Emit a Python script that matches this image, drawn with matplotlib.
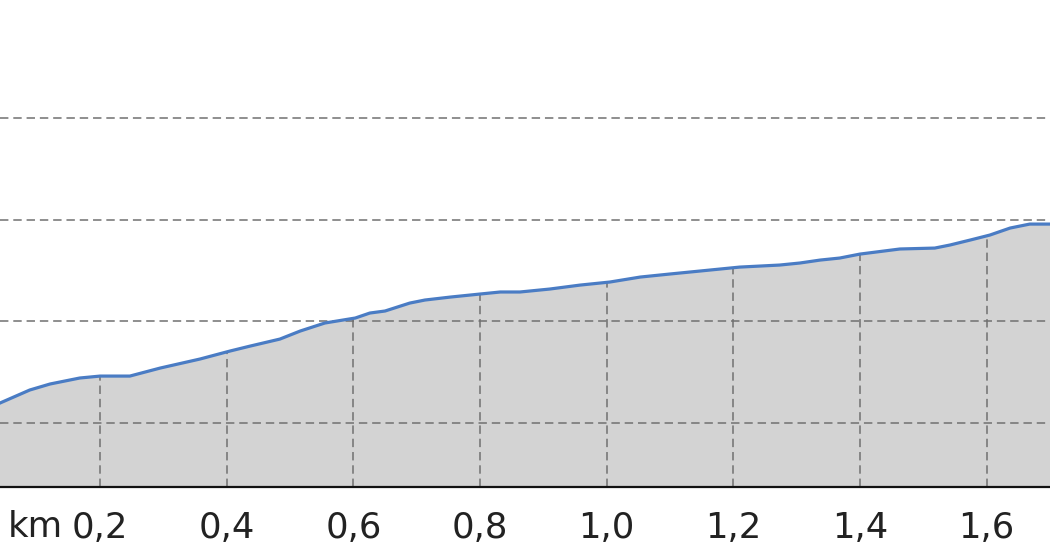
"""Elevation profile along the route (distance in km)."""

import numpy as np
import matplotlib as mpl
import matplotlib.pyplot as plt

mpl.rcParams["font.family"] = "DejaVu Sans"

# distance along route (km) and elevation (m)
distance_km = [0.042, 0.089, 0.121, 0.168, 0.200, 0.247, 0.295, 0.358, 0.405,
               0.437, 0.484, 0.516, 0.555, 0.603, 0.626, 0.650, 0.689, 0.713,
               0.753, 0.800, 0.832, 0.863, 0.910, 0.958, 1.005, 1.053, 1.100,
               1.147, 1.210, 1.273, 1.305, 1.337, 1.368, 1.400, 1.463, 1.518,
               1.542, 1.574, 1.605, 1.637, 1.668, 1.700]
elevation_m = [11.97, 13.25, 13.84, 14.43, 14.62, 14.62, 15.41, 16.30, 17.08,
               17.57, 18.26, 19.05, 19.84, 20.33, 20.82, 21.02, 21.80, 22.10,
               22.39, 22.69, 22.89, 22.89, 23.18, 23.57, 23.87, 24.36, 24.66,
               24.95, 25.34, 25.54, 25.74, 26.03, 26.23, 26.62, 27.12, 27.21,
               27.51, 28.00, 28.49, 29.18, 29.57, 29.57]
x_ticks = [0.2, 0.4, 0.6, 0.8, 1.0, 1.2, 1.4, 1.6]
y_grid = [10, 20, 30, 40]

GRID_COLOR = "#707070"
DASH = (0, (5.5, 3.2))
TEXT_COLOR = "#222222"


def main():
    x = np.array(distance_km)
    y = np.array(elevation_m)
    y_min, y_max = 3.71, 51.61

    fig = plt.figure(figsize=(10.5, 5.6), dpi=100)
    ax = fig.add_axes([0, 73 / 560, 1, 487 / 560])

    ax.fill_between(x, y_min, y, color="#d3d3d3", zorder=1, linewidth=0)
    for gy in y_grid:
        ax.axhline(gy, color=GRID_COLOR, lw=1.1, ls=DASH, zorder=2)
    ax.vlines(x_ticks, y_min, np.interp(x_ticks, x, y), color=GRID_COLOR,
              lw=1.1, ls=DASH, zorder=2)
    ax.plot(x, y, color="#4a7cc4", lw=2.3, zorder=3, solid_joinstyle="round")

    ax.set_xlim(x[0], x[-1])
    ax.set_ylim(y_min, y_max)
    ax.set_xticks(x_ticks)
    ax.set_xticklabels([f"{t:.1f}".replace(".", ",") for t in x_ticks])
    ax.set_yticks([])
    ax.tick_params(axis="x", length=0, pad=17.3, labelsize=25.5, labelcolor=TEXT_COLOR)
    for side in ("top", "left", "right"):
        ax.spines[side].set_visible(False)
    ax.spines["bottom"].set_linewidth(1.6)
    ax.spines["bottom"].set_color("#111111")

    fig.text(35 / 1050, 1 - 537 / 560, "km", ha="center", va="baseline",
             fontsize=25.5, color=TEXT_COLOR)

    fig.savefig("out.png", dpi=100)
    plt.close(fig)


if __name__ == "__main__":
    main()
